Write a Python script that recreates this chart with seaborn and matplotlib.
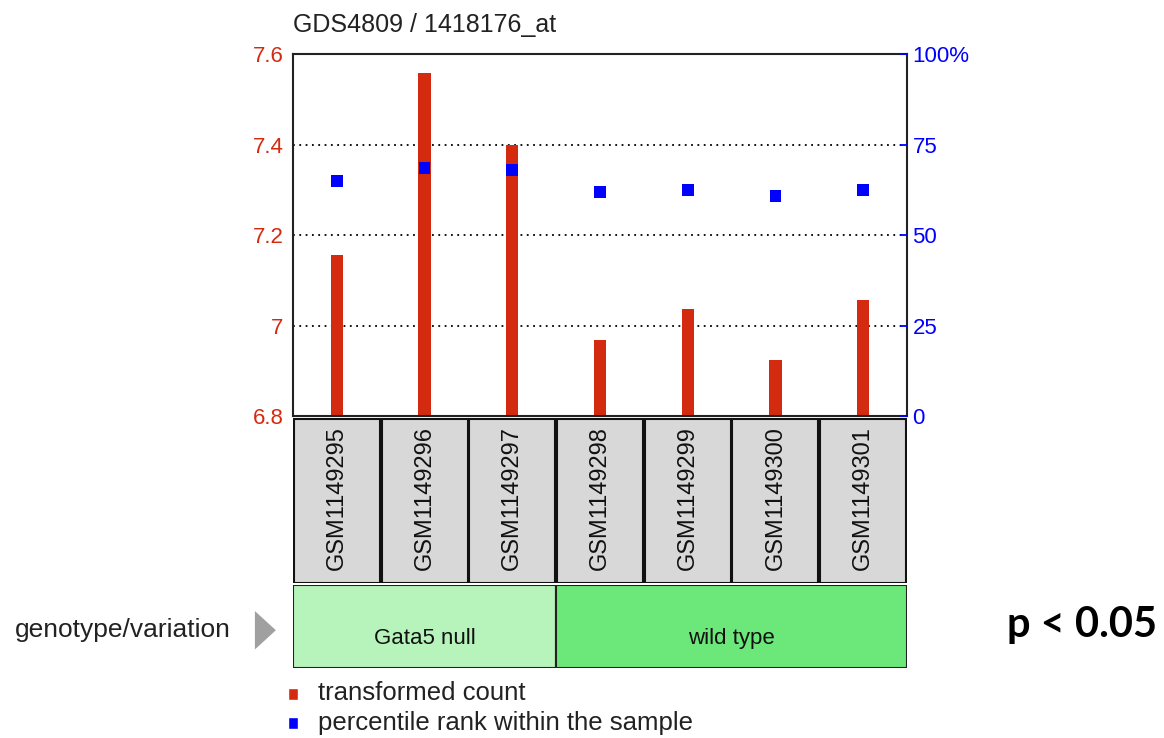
import numpy as np
import matplotlib
matplotlib.use("Agg")
import matplotlib.pyplot as plt
from matplotlib.patches import Rectangle, Polygon
import seaborn as sns

sns.set_style("white")
plt.rcParams['font.family'] = ['Liberation Sans', 'DejaVu Sans']

# data
samples = ["GSM1149295", "GSM1149296", "GSM1149297", "GSM1149298",
           "GSM1149299", "GSM1149300", "GSM1149301"]
counts = [7.156, 7.558, 7.399, 6.968, 7.036, 6.924, 7.056]
percentiles = [64.9, 68.5, 68.0, 61.9, 62.4, 60.8, 62.4]
groups = ["Gata5 null", "wild type"]
group_sizes = [3, 4]
group_colors = ["#b6f4bc", "#6ce779"]
left_ticks = [6.8, 7.0, 7.2, 7.4, 7.6]
right_ticks = [0, 25, 50, 75, 100]
right_labels = ["0", "25", "50", "75", "100%"]

red = "#d42a10"
blue = "#0000ff"
fs = 16

fig = plt.figure(figsize=(11.64, 7.38), dpi=100)

# main chart
ax = fig.add_axes([0.2517, 0.4363, 0.5275, 0.4905])
sns.barplot(x=samples, y=counts, color=red, width=0.14, saturation=1,
            edgecolor="none", ax=ax)
ax.set_ylim(6.8, 7.6)
ax.set_xlim(-0.5, len(samples) - 0.5)
ax.set_yticks(left_ticks)
ax.set_yticklabels([f"{t:g}" for t in left_ticks], color=red, fontsize=fs)
ax.set_xticks(range(len(samples)))
ax.set_xticklabels([])
ax.tick_params(axis="x", length=4, width=1.5, direction="out", color="black")
ax.tick_params(axis="y", length=0, pad=7)
ax.set_xlabel("")
ax.set_ylabel("")
for y in [7.0, 7.2, 7.4]:
    ax.axhline(y, color="black", linestyle=(0, (1, 2.5)), linewidth=1.3, zorder=0)
for s in ax.spines.values():
    s.set_linewidth(1.5)
    s.set_color("#222222")
ax.set_title("GDS4809 / 1418176_at", loc="left", fontsize=18, pad=16,
             x=0.0, color="#222222")

ax2 = ax.twinx()
sns.scatterplot(x=samples, y=percentiles, marker="s", color=blue, s=70,
                edgecolor="none", ax=ax2, zorder=5)
ax2.set_ylim(0, 100)
ax2.set_yticks(right_ticks)
ax2.set_yticklabels(right_labels, color=blue, fontsize=fs)
ax2.tick_params(axis="y", length=5, width=1.3, color=blue, direction="in", pad=4)
ax2.set_ylabel("")
for s in ax2.spines.values():
    s.set_visible(False)

# sample label boxes
ax_s = fig.add_axes([0.2517, 0.2100, 0.5275, 0.2263])
ax_s.set_xlim(-0.5, len(samples) - 0.5)
ax_s.set_ylim(0, 1)
ax_s.axis("off")
for i, name in enumerate(samples):
    ax_s.add_patch(Rectangle((i - 0.49, 0.0), 0.98, 0.98, facecolor="#d8d8d8",
                             edgecolor="#111111", linewidth=1.5))
    ax_s.text(i, 0.94, name, rotation=90, ha="center", va="top",
              fontsize=17, color="#111111")

# group boxes
ax_g = fig.add_axes([0.2517, 0.0949, 0.5275, 0.1125])
ax_g.set_xlim(-0.5, len(samples) - 0.5)
ax_g.set_ylim(0, 1)
ax_g.axis("off")
start = -0.5
for name, n, col in zip(groups, group_sizes, group_colors):
    ax_g.add_patch(Rectangle((start, 0.0), n, 1.0, facecolor=col,
                             edgecolor="#222222", linewidth=1.5))
    ax_g.text(start + n / 2, 0.35, name, ha="center", va="center",
              fontsize=16, color="#111111")
    start += n

fig.text(0.013, 0.146, "genotype/variation", fontsize=19, va="center",
         ha="left", color="#222222")
fig.patches.append(Polygon([[0.219, 0.172], [0.219, 0.120], [0.237, 0.146]],
                           closed=True, transform=fig.transFigure,
                           facecolor="#a0a0a0", edgecolor="none"))

# legend
fig.patches.append(Rectangle((0.2475, 0.052), 0.0085, 0.016,
                             transform=fig.transFigure, facecolor=red))
fig.text(0.273, 0.061, "transformed count", fontsize=18.5, va="center",
         color="#222222")
fig.patches.append(Rectangle((0.2475, 0.012), 0.0085, 0.016,
                             transform=fig.transFigure, facecolor=blue))
fig.text(0.273, 0.020, "percentile rank within the sample", fontsize=18.5,
         va="center", color="#222222")

fig.text(0.994, 0.153, "p < 0.05", fontsize=30, fontweight="bold",
         ha="right", va="center", color="black", family=["Lato", "DejaVu Sans"])

fig.savefig("out.png", dpi=100)
